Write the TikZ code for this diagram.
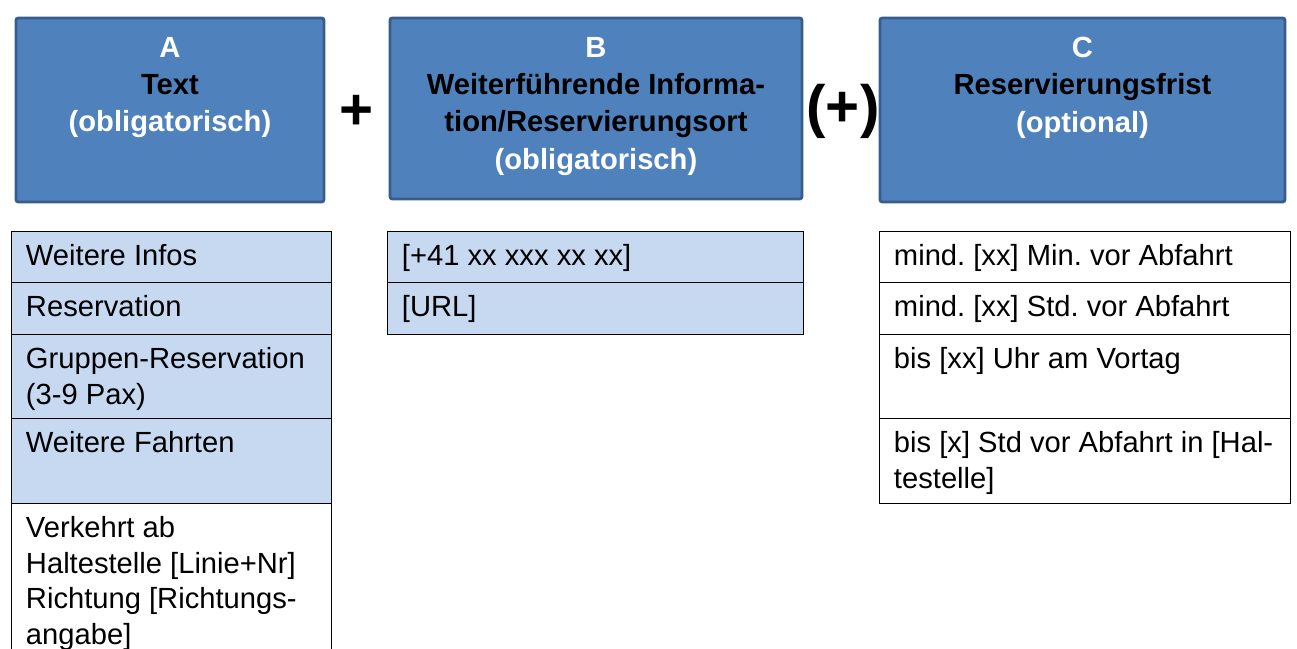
\documentclass[tikz,border=0pt]{standalone}
\usepackage{fontspec}
\setmainfont{Liberation Sans}
\frenchspacing
\definecolor{boxblue}{HTML}{4F81BD}
\definecolor{boxline}{HTML}{385D8A}
\definecolor{cellblue}{HTML}{C6D9F1}
\newcommand{\pxu}{0.4115pt}
\tikzset{
  headbox/.style={draw=boxline, fill=boxblue, line width=1.2pt, rounded corners=1pt,
    anchor=north west, inner sep=0pt},
  headtext/.style={anchor=north, align=center, inner sep=0pt,
    font=\bfseries\fontsize{12}{15.4}\selectfont},
  cellbox/.style={draw=black, line width=0.7pt, anchor=north west, inner sep=0pt},
  celltext/.style={anchor=north west, align=left, inner sep=0pt,
    font=\fontsize{12}{14.6}\selectfont},
  opsign/.style={inner sep=0pt, font=\bfseries\fontsize{24}{24}\selectfont}
}

\begin{document}
\begin{tikzpicture}[x=\pxu, y=-\pxu]
  \newcommand{\headblock}[6]{% name, x, y, w, h, text
    \node[headbox, minimum width=#4*\pxu, minimum height=#5*\pxu] (#1) at (#2,#3) {};
    \node[headtext] (#1txt) at ([yshift=-20*\pxu]#1.north) {#6};
  }
  \newcommand{\tabcell}[7]{% name, x, y, w, h, fill, text
    \node[cellbox, fill=#6, minimum width=#4*\pxu, minimum height=#5*\pxu] (#1) at (#2,#3) {};
    \node[celltext] (#1txt) at ([shift={(15,13.5)}]#1.north west) {#7};
  }
  \useasboundingbox (0,0) rectangle (1297,648);
  \clip (0,0) rectangle (1297,648);

  % head boxes
  \headblock{A}{14.5}{16.5}{308}{184}{\color{white}A\\Text\\\color{white}(obligatorisch)}
  \headblock{B}{388.5}{16.5}{412}{181}{\color{white}B\\Weiterführende Informa-\\tion/Reservierungsort\\\color{white}(obligatorisch)}
  \headblock{C}{878.5}{16.5}{405}{184}{\color{white}C\\Reservierungsfrist\\\color{white}(optional)}

  \node[opsign] (plus) at (357,112) {+};
  \node[opsign] (optplus) at (843,111) {(+)};

  % column A
  \tabcell{a1}{10.5}{230.5}{320}{51}{cellblue}{Weitere Infos}
  \tabcell{a2}{10.5}{281.5}{320}{52}{cellblue}{Reservation}
  \tabcell{a3}{10.5}{333.5}{320}{84}{cellblue}{Gruppen-Reservation\\(3-9 Pax)}
  \tabcell{a4}{10.5}{417.5}{320}{85}{cellblue}{Weitere Fahrten}
  \tabcell{a5}{10.5}{502.5}{320}{170}{white}{Verkehrt ab\\Haltestelle [Linie+Nr]\\Richtung [Richtungs-\\angabe]}

  % column B
  \tabcell{b1}{386.5}{230.5}{416}{51}{cellblue}{[+41 xx xxx xx xx]}
  \tabcell{b2}{386.5}{281.5}{416}{52}{cellblue}{[URL]}

  % column C
  \tabcell{c1}{878.5}{230.5}{411}{51}{white}{mind. [xx] Min. vor Abfahrt}
  \tabcell{c2}{878.5}{281.5}{411}{52}{white}{mind. [xx] Std. vor Abfahrt}
  \tabcell{c3}{878.5}{333.5}{411}{84}{white}{bis [xx] Uhr am Vortag}
  \tabcell{c4}{878.5}{417.5}{411}{85}{white}{bis [x] Std vor Abfahrt in [Hal-\\testelle]}
\end{tikzpicture}
\end{document}
